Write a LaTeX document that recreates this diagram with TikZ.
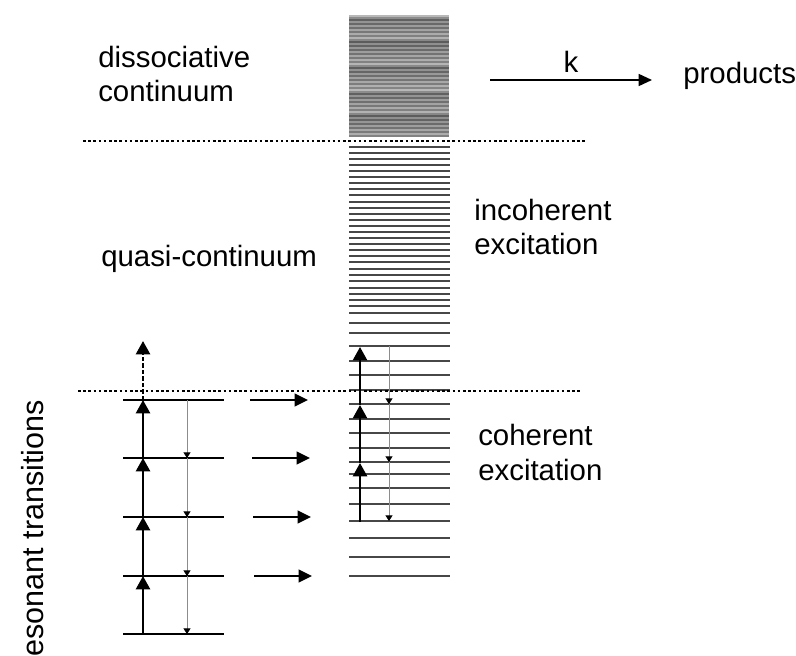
\documentclass[tikz,border=0pt]{standalone}
\usepackage{fontspec}
\setmainfont{Liberation Sans}
\usetikzlibrary{arrows.meta}

\tikzset{
  txt/.style={font=\fontsize{20.9}{24.2}\selectfont, align=left, anchor=base west, inner sep=0pt},
  level/.style={line width=1.6pt},
  band/.style={line width=1.1pt, black!72},
  border/.style={line width=1.8pt, dash pattern=on 1.8pt off 1.9pt},
  pump/.style={line width=1.7pt, -{Triangle[width=10pt,length=9.5pt]}},
  decay/.style={line width=0.6pt, black!45, -{Triangle[width=5pt,length=4pt,color=black]}},
  feed/.style={line width=1.7pt, -{Triangle[width=9pt,length=9.5pt]}},
  rate/.style={line width=1.3pt, -{Triangle[width=8.5pt,length=9.5pt]}}
}

\begin{document}
\begin{tikzpicture}[x=0.025cm, y=-0.025cm]
    \useasboundingbox (0,0) rectangle (796,656);

    % dissociative continuum
    \fill[black!45] (349,15) rectangle (449,137);
    \foreach \i in {0,...,60} {
        \pgfmathtruncatemacro\g{28+mod(\i*17,37)}
        \draw[line width=1.45pt, black!\g] (349,16+2*\i) -- (449,16+2*\i);
    }

    % quasi-continuum and discrete levels
    \foreach \y in {147,153,159,165,171,177,183,189,195,202,208,214,220,226,232,238,244,250,256,262,269,275,281,288,294,300,306,313,323,333,346,361,375,390,404,419,433,448,462,474,488,504,521,538,557,576}
        \draw[band] (349,\y) -- (450,\y);

    % limits
    \draw[border] (83,141) -- (587,141);
    \draw[border] (78,391) -- (582,391);

    % left ladder
    \foreach \y [count=\i from 0] in {634,576,517,458,400} {
        \draw[level] (123,\y) -- (224,\y);
        \coordinate (l\i) at (143,\y);
        \coordinate (d\i) at (187,\y);
    }
    \coordinate (ltop) at (143,341);
    \foreach \i/\j in {0/1,1/2,2/3,3/4}
        \draw[pump] (l\i) -- (l\j);
    \draw[pump, dash pattern=on 3pt off 1.6pt] (l4) -- (ltop);
    \foreach \i/\j in {4/3,3/2,2/1,1/0}
        \draw[decay] (d\i) -- (d\j);

    % transfer arrows
    \foreach \y/\x [count=\i] in {400/250,458/252,517/253,576/254} {
        \coordinate (s\i) at (\x,\y);
        \coordinate (t\i) at (\x+58,\y);
        \draw[feed] (s\i) -- (t\i);
    }

    % coherent excitation inside the column
    \foreach \y [count=\i from 0] in {522,463,405,347} {
        \coordinate (c\i) at (360,\y);
        \coordinate (e\i) at (389,\y-1);
    }
    \foreach \i/\j in {0/1,1/2,2/3}
        \draw[pump] (c\i) -- (c\j);
    \foreach \i/\j in {3/2,2/1,1/0}
        \draw[decay] (e\i) -- (e\j);

    % labels
    \node[txt] (diss) at (98,102) {dissociative\\continuum};
    \node[txt] (quasi) at (101,267) {quasi-continuum};
    \node[txt] (incoh) at (474,255) {incoherent\\excitation};
    \node[txt] (coh) at (478,480) {coherent\\excitation};
    \node[txt] (prod) at (683,84) {products};
    \node[txt, font=\fontsize{21.7}{25}\selectfont, rotate=90, anchor=base east] (reson) at (43,400) {resonant transitions};

    \coordinate (kstart) at (490,80);
    \coordinate (kend) at (652,80);
    \draw[rate] (kstart) -- node[txt, anchor=base, yshift=5pt] (k) {k} (kend);

\end{tikzpicture}
\end{document}
